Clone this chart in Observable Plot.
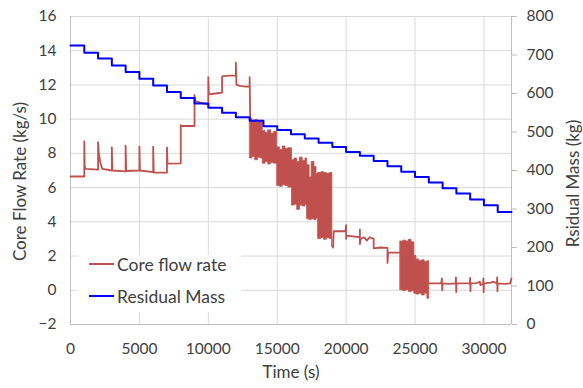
<!DOCTYPE html>
<html><head><meta charset="utf-8">
<script src="https://cdn.jsdelivr.net/npm/d3@7"></script>
<script src="https://cdn.jsdelivr.net/npm/@observablehq/plot@0.6"></script>
<style>
body{margin:0;background:#fff;}
#wrap{position:relative;width:583px;height:388px;font-family:Lato,"Open Sans",sans-serif;}
#wrap svg{position:absolute;left:0;top:0;}
.legend{position:absolute;left:77px;top:255px;width:164px;height:57px;background:#fff;font-size:17.5px;color:#404040;}
.item{position:absolute;left:12px;height:20px;display:flex;align-items:center;white-space:nowrap;}
.sw{width:25px;height:0;border-top:2px solid;margin-right:3px;}
</style>
</head><body><div id="wrap"></div>
<script>
// Time axis ticks and left/right axis ticks
const timeTicks = [0, 5000, 10000, 15000, 20000, 25000, 30000];
const flowTicks = [-2, 0, 2, 4, 6, 8, 10, 12, 14, 16];
const massTicks = [0, 100, 200, 300, 400, 500, 600, 700, 800];

// Residual mass (kg), step-after
const massTime = [0,1000,2000,3000,4000,5000,6000,7000,8000,9000,10000,11000,12000,13000,14000,15000,16000,17000,18000,19000,20000,21000,22000,23000,24000,25000,26000,27000,28000,29000,30000,31000,32000];
const massValue = [725,706,691,673,656,638,621,604,588,574,563,550,538,529,515,505,494,483,472,461,448,438,425,411,397,383,369,354,340,325,310,292,292];

// Core flow rate (kg/s), continuous line pieces (NaN breaks between pieces)
const flowTime = [
  0,1000,1000,1030,1100,2000,2000,2060,2150,2300,3000,3000,3040,4000,4000,4040,5000,5000,5040,6000,6000,6040,7000,7000,7040,8000,8000,8050,9000,9000,9050,9500,10000,10000,10040,10500,11000,11000,11500,12000,12000,12040,12300,12700,13000,13000,13040,
  13041,
  19050,19100,19950,20000,20000,20050,20500,21000,21000,21000,21050,21300,21500,21700,22000,22000,22500,23000,23000,23050,23500,23950,
  23951,
  26030,26500,26900,26950,26970,27000,27500,27950,27970,27990,28010,28500,28980,29000,29020,29040,29500,29700,29750,29940,29960,29980,30000,30500,30700,30940,30960,30980,31000,31500,31900,32000
];
const flowValue = [
  6.65,6.65,8.7,7.25,7.1,7.05,8.65,8.0,7.5,7.1,7.0,8.35,7.0,6.95,8.45,6.97,7.0,8.4,7.0,6.9,8.4,6.88,6.88,8.35,7.4,7.42,9.65,9.6,9.6,11.4,11.05,10.95,10.85,12.45,11.45,11.5,11.55,12.5,12.55,12.55,13.3,12.0,11.95,11.9,11.9,12.45,10.0,
  NaN,
  2.5,3.45,3.45,3.8,3.0,3.2,3.15,3.1,3.55,2.7,3.0,3.1,2.9,3.1,3.0,2.45,2.5,2.48,1.6,2.2,2.2,2.2,
  NaN,
  0.4,0.4,0.42,0.7,0.0,0.4,0.38,0.4,0.75,-0.1,0.4,0.4,0.4,0.72,-0.05,0.4,0.42,0.5,0.3,0.4,0.7,-0.1,0.4,0.45,0.5,0.4,0.75,-0.05,0.4,0.38,0.4,0.7
];

// Oscillating bands of core flow rate: lower / upper envelope
const bandId   = [1,1,1,1,1,1,1,1,1,1,1,1,1,1,1,1,1,1,1,1,1,1,1,1,1,1,1,1,1,1,1,1, 2,2,2,2,2,2,2,2,2,2,2,2];
const bandTime = [13040,13200,13400,13600,13800,13950,14150,14350,14550,14750,15000,15200,15400,15600,15800,16070,16250,16450,16650,16850,17050,17170,17350,17500,17700,17850,17970,18200,18400,18600,18800,19000,
                  23950,24150,24350,24550,24750,24950,25100,25300,25500,25700,25900,26030];
const bandLow  = [7.7,7.8,7.6,7.75,7.7,7.4,7.5,7.35,7.45,7.4,6.1,6.05,6.15,6.1,6.0,4.95,5.0,4.7,4.95,4.9,5.0,4.15,4.1,4.15,4.1,4.2,3.0,3.05,2.95,3.05,3.0,2.5,
                  0.0,-0.05,0.0,-0.1,-0.05,-0.2,-0.25,-0.2,-0.3,-0.2,-0.5,-0.5];
const bandHigh = [10.0,9.9,9.95,9.85,9.9,9.3,9.2,9.35,9.15,9.25,8.35,8.2,8.4,8.25,8.3,7.6,7.7,7.5,7.75,7.55,7.7,7.3,6.6,7.5,7.2,6.8,6.85,6.9,6.85,6.8,6.85,6.8,
                  2.85,2.9,2.85,2.95,2.8,2.0,1.8,1.7,1.75,1.65,1.7,1.7];

const RED = "#C0504D", BLUE = "#0000FF", GRID = "#D9D9D9", AXIS = "#BFBFBF", TXT = "#404040";
const toFlow = m => m * 18 / 800 - 2; // right axis (kg) onto left scale

const flowData = flowTime.map((t, i) => ({t, v: flowValue[i]}));
const massData = massTime.map((t, i) => ({t, m: massValue[i]}));
const bandData = bandTime.map((t, i) => ({t, lo: bandLow[i], hi: bandHigh[i], id: bandId[i]}));

const chart = Plot.plot({
  width: 583, height: 388,
  marginTop: 16, marginBottom: 64, marginLeft: 70, marginRight: 72,
  x: {domain: [0, 32000]},
  y: {domain: [-2, 16]},
  style: {fontFamily: "Lato, 'Open Sans', sans-serif", fontSize: "15.5px", color: TXT, background: "#fff"},
  marks: [
    Plot.gridY(flowTicks, {stroke: GRID, strokeOpacity: 1}),
    Plot.gridX(timeTicks, {stroke: GRID, strokeOpacity: 1}),
    Plot.ruleX([0, 32000], {stroke: AXIS}),
    Plot.ruleY([-2], {stroke: AXIS}),
    Plot.axisX(timeTicks, {tickSize: 0, tickPadding: 18, label: null, tickFormat: d => String(d)}),
    Plot.axisY(flowTicks, {anchor: "left", tickSize: 0, tickPadding: 14, label: null}),
    Plot.axisY(massTicks.map(toFlow), {anchor: "right", tickSize: 5, stroke: AXIS, tickPadding: 10, label: null,
      tickFormat: (d, i) => String(massTicks[i])}),
    Plot.areaY(bandData, {x: "t", y1: "lo", y2: "hi", z: "id", fill: RED, stroke: RED, strokeWidth: 0.8, curve: "step-after"}),
    Plot.line(flowData, {x: "t", y: "v", stroke: RED, strokeWidth: 1.8}),
    Plot.line(massData, {x: "t", y: d => toFlow(d.m), stroke: BLUE, strokeWidth: 2, curve: "step-after"}),
    Plot.text(["Core Flow Rate (kg/s)"], {frameAnchor: "left", dx: -50, dy: 11, rotate: -90, textAnchor: "middle", fontSize: 17, fill: TXT}),
    Plot.text(["Rsidual Mass (kg)"], {frameAnchor: "right", dx: 62, dy: 13, rotate: -90, textAnchor: "middle", fontSize: 17, fill: TXT}),
    Plot.text(["Time (s)"], {frameAnchor: "bottom", dy: 53, fontSize: 17, fill: TXT})
  ]
});

const wrap = document.getElementById("wrap");
wrap.appendChild(chart);
const legend = document.createElement("div");
legend.className = "legend";
legend.innerHTML =
  `<div class="item" style="top:-1px"><span class="sw" style="border-color:${RED}"></span>Core flow rate</div>` +
  `<div class="item" style="top:31px"><span class="sw" style="border-color:${BLUE}"></span>Residual Mass</div>`;
wrap.appendChild(legend);
</script></body></html>
